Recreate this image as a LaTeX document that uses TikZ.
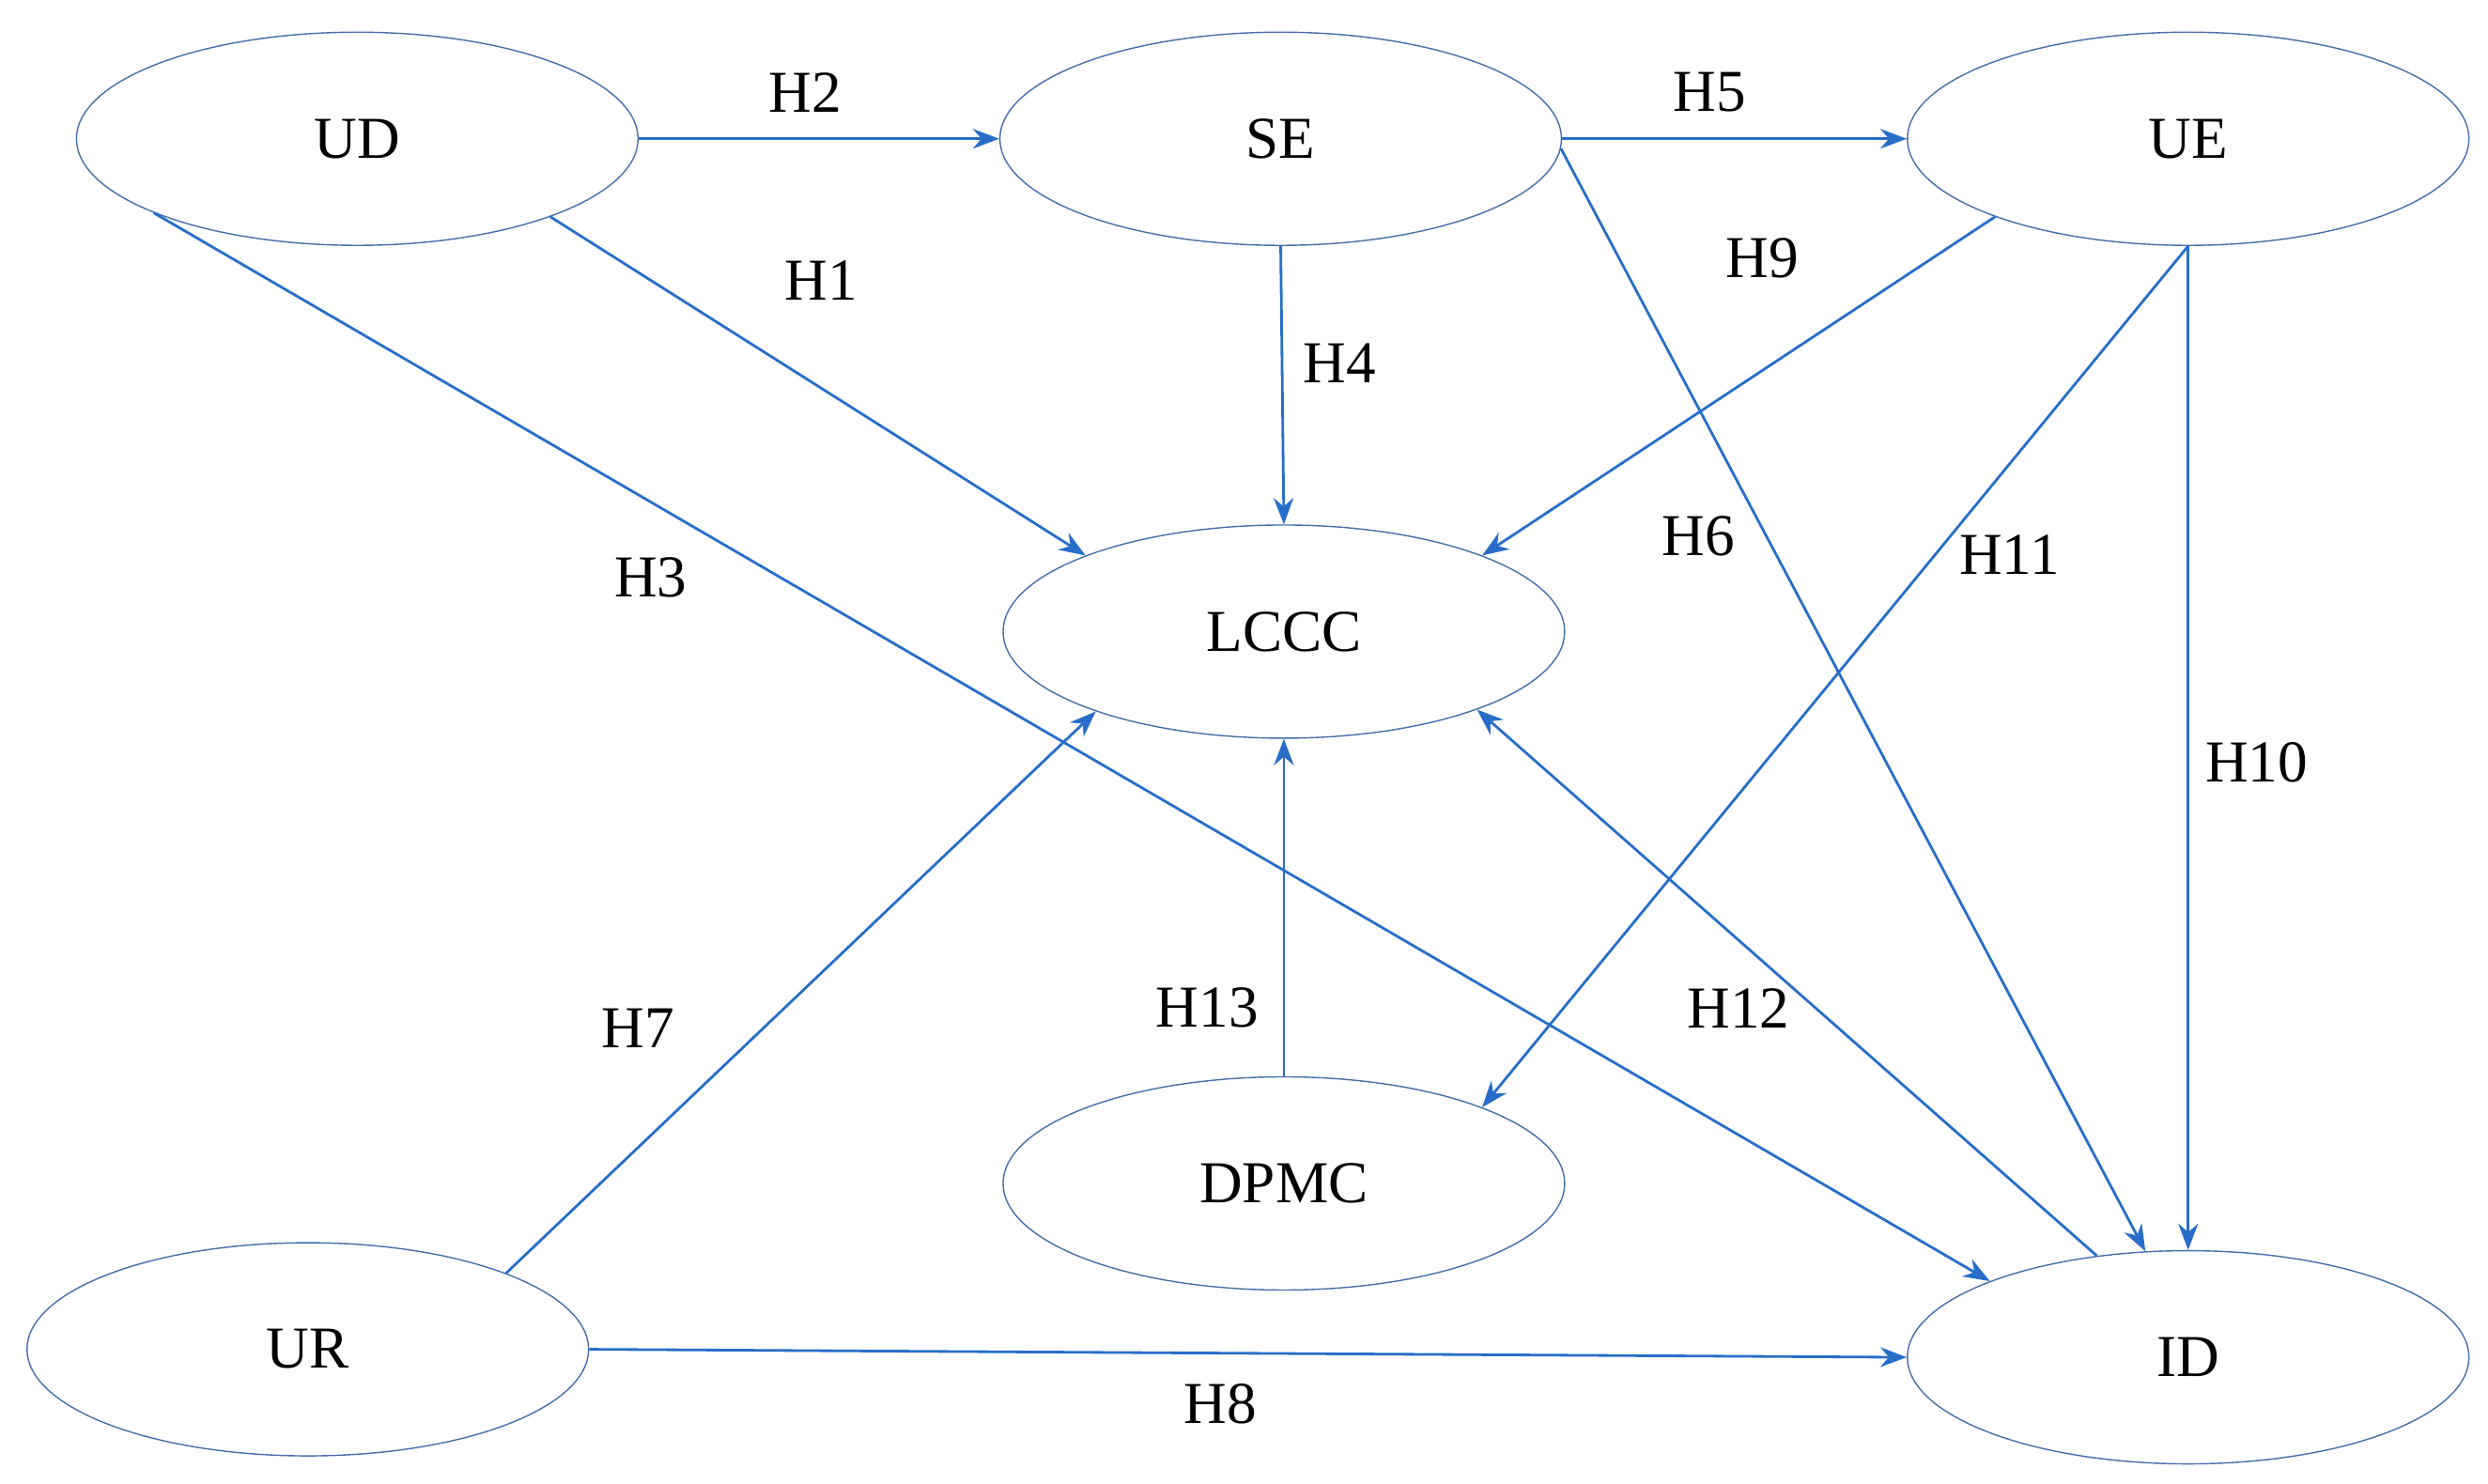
\documentclass[tikz,border=0pt]{standalone}
\usepackage{fontspec}
\setmainfont{Liberation Serif}
\usetikzlibrary{shapes.geometric}
\usetikzlibrary{arrows.meta}
\definecolor{linkblue}{RGB}{40,110,200}
\definecolor{rimblue}{RGB}{70,110,170}
\begin{document}
\begin{tikzpicture}[x=0.01698cm,y=-0.01698cm]
\useasboundingbox (0,0) rectangle (1560,930);
\begin{scope}[every node/.style={ellipse,draw=rimblue,thin,minimum width=5.98cm,minimum height=2.27cm,font=\fontsize{18}{22}\selectfont}]
    \node (UD) at (224,87) {UD};
    \node (SE) at (803,87) {SE};
    \node (UE) at (1372,87) {UE};
    \node (LCCC) at (805,396) {LCCC};
    \node (DPMC) at (805,742) {DPMC};
    \node (UR) at (193,846) {UR};
    \node (ID) at (1372,851) {ID};
    \end{scope}

\begin{scope}[>={Stealth[linkblue,length=8pt,width=6pt]},
              every edge/.style={draw=linkblue,thick}]
    \path [->] (UD.east) edge (SE.west);
    \path [->] (SE.east) edge (UE.west);
    \path [->] (UD.-22) edge (LCCC.159);
    \path [->] (SE.south) edge (LCCC.north);
    \path [->] (UE.-158) edge (LCCC.21);
    \path [->] (SE.-2) edge (ID.112);
    \path [->] (UD.-160) edge (ID.159);
    \path [->] (UE.south) edge (DPMC.21);
    \path [->] (UE.south) edge (ID.north);
    \path [->] (ID.132) edge (LCCC.-22);
    \path [->] (DPMC.north) edge (LCCC.south);
    \path [->] (UR.21) edge (LCCC.-157);
    \path [->] (UR.east) edge (ID.west);
    \end{scope}

\begin{scope}[every node/.style={font=\fontsize{18}{22}\selectfont}]
    \node (h1) at (515,176) {H1};
    \node (h2) at (505,58) {H2};
    \node (h3) at (408,362) {H3};
    \node (h4) at (840,228) {H4};
    \node (h5) at (1072,58) {H5};
    \node (h6) at (1065,336) {H6};
    \node (h7) at (400,645) {H7};
    \node (h8) at (765,880) {H8};
    \node (h9) at (1105,162) {H9};
    \node (h10) at (1415,478) {H10};
    \node (h11) at (1260,348) {H11};
    \node (h12) at (1090,632) {H12};
    \node (h13) at (757,632) {H13};
    \end{scope}
\end{tikzpicture}
\end{document}
